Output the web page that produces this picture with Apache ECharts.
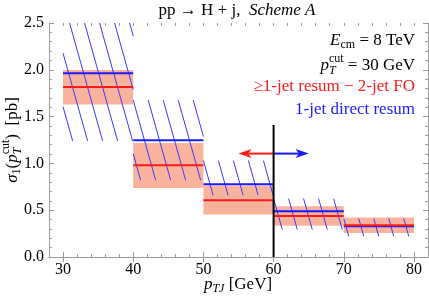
<!DOCTYPE html>
<html><head><meta charset="utf-8">
<script src="https://cdn.jsdelivr.net/npm/echarts@6/dist/echarts.min.js"></script>
<style>html,body{margin:0;padding:0;background:#fff}#c{width:429px;height:299px}</style>
</head><body><div id="c"></div>
<script>
// ---- data ----
const binStart = [30, 40, 50, 60, 70];
const binEnd   = [40, 50, 60, 70, 80];
const redCentral  = [1.816, 0.980, 0.606, 0.438, 0.339];
const redLow      = [1.630, 0.737, 0.453, 0.335, 0.256];
const redHigh     = [1.998, 1.218, 0.760, 0.542, 0.421];
const blueCentral = [1.963, 1.247, 0.777, 0.488, 0.328];
const blueLow     = [1.240, 0.820, 0.660, 0.293, 0.221];
const blueHigh    = [2.750, 1.676, 1.030, 0.624, 0.410];
const xTickLabels = [30, 40, 50, 60, 70, 80];
const cutX = 60, cutTop = 1.41;
const arrowY = 1.105, arrowLeftTo = 55, arrowRightTo = 65;

// ---- style ----
const FONT = 'Liberation Serif';
const RED = '#ff1a1a', BLUE = '#1a1aff', BAND = '#f9b39c', HATCH = '#3838ff', FRAME = '#9a9a9a';

const mctx = document.createElement('canvas').getContext('2d');
function tw(t, size, italic) { mctx.font = (italic ? 'italic ' : '') + size + 'px ' + FONT; return mctx.measureText(t).width; }

function layoutParts(parts, color) {
  let x = 0; const els = [];
  for (const p of parts) {
    if (p.stack) {
      let w = 0;
      for (const q of p.stack) {
        els.push({ type: 'text', x: x + (q.dx || 0), y: q.dy || 0, style: { text: q.t, fontSize: q.size, fontFamily: FONT, fontStyle: q.italic ? 'italic' : 'normal', fill: color, align: 'left', verticalAlign: 'middle' } });
        w = Math.max(w, tw(q.t, q.size, q.italic) + (q.dx || 0));
      }
      x += w;
    } else {
      els.push({ type: 'text', x: x, y: p.dy || 0, style: { text: p.t, fontSize: p.size, fontFamily: FONT, fontStyle: p.italic ? 'italic' : 'normal', fill: color, align: 'left', verticalAlign: 'middle' } });
      x += tw(p.t, p.size, p.italic);
    }
  }
  return { els, width: x };
}
function rightLine(parts, color, rightX, y) {
  const l = layoutParts(parts, color);
  return { type: 'group', x: rightX - l.width, y: y, children: l.els };
}

const S = 17, s = 12;
const graphics = [];
graphics.push({ type: 'text', x: 237, y: 11, style: { text: '{r|pp → H + j,  }{i|Scheme A}', align: 'center', verticalAlign: 'middle',
  rich: { r: { fontSize: S, fontFamily: FONT, fill: '#000' }, i: { fontSize: S, fontFamily: FONT, fontStyle: 'italic', fill: '#000' } } } });
graphics.push(rightLine([{ t: 'E', size: S, italic: true }, { t: 'cm', size: s, dy: 4 }, { t: ' = 8 TeV', size: S }], '#000', 415, 41));
graphics.push(rightLine([{ t: 'p', size: S, italic: true }, { stack: [{ t: 'cut', size: s, dy: -7 }, { t: 'T', size: s, italic: true, dy: 5 }] }, { t: ' = 30 GeV', size: S }], '#000', 415, 66));
graphics.push(rightLine([{ t: '≥1-jet resum − 2-jet FO', size: S }], RED, 415, 87));
graphics.push(rightLine([{ t: '1-jet direct resum', size: S }], BLUE, 415, 110));
(function () {
  const l = layoutParts([{ t: 'σ', size: S, italic: true }, { t: '1', size: s, dy: 4 }, { t: '(', size: S }, { t: 'p', size: S, italic: true },
    { stack: [{ t: 'cut', size: s, dy: -7 }, { t: 'T', size: s, italic: true, dy: 5 }] }, { t: ')  [pb]', size: S }], '#000');
  l.els.forEach(e => { e.x -= l.width / 2; });
  graphics.push({ type: 'group', x: 13, y: 140, rotation: Math.PI / 2, children: l.els });
})();
(function () {
  const l = layoutParts([{ t: 'p', size: S, italic: true }, { t: 'TJ', size: s, italic: true, dy: 4 }, { t: ' [GeV]', size: S }], '#000');
  l.els.forEach(e => { e.x -= l.width / 2; });
  graphics.push({ type: 'group', x: 238, y: 285, children: l.els });
})();

const rows = binStart.map((b, i) => i);

function rectOf(api, x0, x1, lo, hi) {
  const p1 = api.coord([x0, hi]), p2 = api.coord([x1, lo]);
  return { L: p1[0], T: p1[1], R: p2[0], B: p2[1] };
}

const labelStyle = { color: '#000', fontFamily: FONT, fontSize: 16 };
const axisCommon = { type: 'value', min: 28, max: 82, splitLine: { show: false } };
const option = {
  animation: false,
  textStyle: { fontFamily: FONT },
  grid: [
    { left: 49, right: 1, top: 23, bottom: 42 },
    { left: 49, right: 1, top: 23, bottom: 42 }
  ],
  xAxis: [
    Object.assign({}, axisCommon, { gridIndex: 0, position: 'bottom', axisLine: { lineStyle: { color: FRAME, width: 1 } },
      axisTick: { inside: true, length: 5, customValues: xTickLabels, lineStyle: { color: FRAME } },
      axisLabel: Object.assign({ customValues: xTickLabels, margin: 5 }, labelStyle) }),
    Object.assign({}, axisCommon, { gridIndex: 0, position: 'top', axisLine: { lineStyle: { color: FRAME, width: 1 } },
      axisTick: { inside: true, length: 5, customValues: xTickLabels, lineStyle: { color: FRAME } }, axisLabel: { show: false } }),
    Object.assign({}, axisCommon, { gridIndex: 1, position: 'bottom', interval: 2, axisLine: { show: false },
      axisTick: { inside: true, length: 3, lineStyle: { color: FRAME } }, axisLabel: { show: false } }),
    Object.assign({}, axisCommon, { gridIndex: 1, position: 'top', interval: 2, axisLine: { show: false },
      axisTick: { inside: true, length: 3, lineStyle: { color: FRAME } }, axisLabel: { show: false } })
  ],
  yAxis: [
    { type: 'value', gridIndex: 0, position: 'left', min: 0, max: 2.5, interval: 0.5, splitLine: { show: false },
      axisLine: { show: true, lineStyle: { color: FRAME } },
      axisTick: { inside: true, length: 5, lineStyle: { color: FRAME } },
      minorTick: { show: true, splitNumber: 5, length: 3, lineStyle: { color: FRAME } },
      axisLabel: Object.assign({ margin: 5, formatter: v => v.toFixed(1) }, labelStyle) },
    { type: 'value', gridIndex: 0, position: 'right', min: 0, max: 2.5, interval: 0.5, splitLine: { show: false },
      axisLine: { show: true, lineStyle: { color: FRAME } },
      axisTick: { inside: true, length: 5, lineStyle: { color: FRAME } },
      minorTick: { show: true, splitNumber: 5, length: 3, lineStyle: { color: FRAME } },
      axisLabel: { show: false } },
    { type: 'value', gridIndex: 1, min: 0, max: 2.5, show: false }
  ],
  graphic: graphics,
  series: [
    { type: 'custom', xAxisIndex: 0, yAxisIndex: 0, data: rows, z: 2,
      renderItem: (params, api) => {
        const i = params.dataIndex;
        const r = rectOf(api, binStart[i], binEnd[i], redLow[i], redHigh[i]);
        return { type: 'rect', shape: { x: r.L, y: r.T, width: r.R - r.L, height: r.B - r.T }, style: { fill: BAND } };
      } },
    { type: 'custom', xAxisIndex: 0, yAxisIndex: 0, data: rows, z: 3,
      renderItem: (params, api) => {
        const i = params.dataIndex;
        const cs = params.coordSys;
        const r = rectOf(api, binStart[i], binEnd[i], blueLow[i], blueHigh[i]);
        const T = Math.max(r.T, cs.y), B = r.B, L = r.L, R = r.R;
        const sl = 0.28, gap = 15;
        const c0 = L - sl * r.T;
        const cMin = L - sl * B, cMax = R - sl * T;
        const children = [];
        let k = Math.ceil((cMin - c0) / gap);
        for (let c = c0 + k * gap; c <= cMax; c += gap) {
          const y1 = Math.max(T, (L - c) / sl), y2 = Math.min(B, (R - c) / sl);
          if (y2 - y1 > 0.5) children.push({ type: 'line', shape: { x1: c + sl * y1, y1: y1, x2: c + sl * y2, y2: y2 }, style: { stroke: HATCH, lineWidth: 1 } });
        }
        return { type: 'group', children };
      } },
    { type: 'custom', xAxisIndex: 0, yAxisIndex: 0, data: rows, z: 4,
      renderItem: (params, api) => {
        const i = params.dataIndex;
        const a = api.coord([binStart[i], blueCentral[i]]), b = api.coord([binEnd[i], blueCentral[i]]);
        return { type: 'line', shape: { x1: a[0], y1: a[1], x2: b[0], y2: b[1] }, style: { stroke: BLUE, lineWidth: 2 } };
      } },
    { type: 'custom', xAxisIndex: 0, yAxisIndex: 0, data: rows, z: 5,
      renderItem: (params, api) => {
        const i = params.dataIndex;
        const a = api.coord([binStart[i], redCentral[i]]), b = api.coord([binEnd[i], redCentral[i]]);
        return { type: 'line', shape: { x1: a[0], y1: a[1], x2: b[0], y2: b[1] }, style: { stroke: RED, lineWidth: 2 } };
      } },
    { type: 'custom', xAxisIndex: 0, yAxisIndex: 0, data: [0], z: 6,
      renderItem: (params, api) => {
        const base = api.coord([cutX, 0]), top = api.coord([cutX, cutTop]);
        const lt = api.coord([arrowLeftTo, arrowY]), rt = api.coord([arrowRightTo, arrowY]);
        const y = lt[1], x0 = base[0];
        const hl = 13, hw = 4.5;
        function arrow(tx, dir, color) {
          return [
            { type: 'line', shape: { x1: x0, y1: y, x2: tx + dir * hl * 0.75, y2: y }, style: { stroke: color, lineWidth: 2 } },
            { type: 'polygon', shape: { points: [[tx, y], [tx + dir * hl, y - hw], [tx + dir * hl * 0.75, y], [tx + dir * hl, y + hw]] }, style: { fill: color } }
          ];
        }
        return { type: 'group', children: [].concat(
          arrow(lt[0], 1, RED), arrow(rt[0], -1, BLUE),
          [{ type: 'line', shape: { x1: x0, y1: base[1], x2: x0, y2: top[1] }, style: { stroke: '#000', lineWidth: 2 } }]) };
      } }
  ]
};
const chart = echarts.init(document.getElementById('c'), null, { renderer: 'canvas' });
chart.setOption(option);
</script></body></html>
